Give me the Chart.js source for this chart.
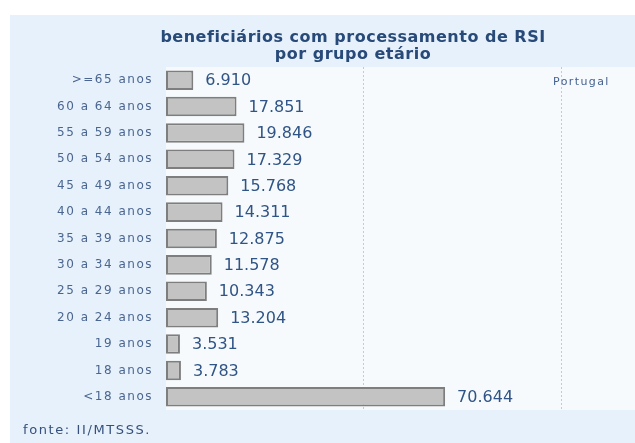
<!DOCTYPE html>
<html>
<head>
<meta charset="utf-8">
<script src="https://cdn.jsdelivr.net/npm/chart.js@4/dist/chart.umd.min.js"></script>
<style>
  html, body { margin: 0; padding: 0; background: #ffffff; }
  #wrap { width: 635px; height: 443px; }
</style>
</head>
<body>
<div id="wrap"><canvas id="rsiChart" width="635" height="443"></canvas></div>
<script>
// dados
const ageGroups = ['>=65 anos', '60 a 64 anos', '55 a 59 anos', '50 a 54 anos', '45 a 49 anos',
    '40 a 44 anos', '35 a 39 anos', '30 a 34 anos', '25 a 29 anos', '20 a 24 anos',
    '19 anos', '18 anos', '<18 anos'];
const beneficiaries = [6910, 17851, 19846, 17329, 15768, 14311, 12875, 11578, 10343, 13204, 3531, 3783, 70644];
const titleLines = ['beneficiários com processamento de RSI', 'por grupo etário'];
const regionLabel = 'Portugal';
const sourceNote = 'fonte: II/MTSSS.';
const gridTicks = [50000, 100000];

const panelPlugin = {
    id: 'panel',
    beforeDraw(chart) {
        const ctx = chart.ctx;
        const area = chart.chartArea;
        ctx.save();
        ctx.fillStyle = '#ffffff';
        ctx.fillRect(0, 0, chart.width, chart.height);
        ctx.fillStyle = '#e7f1fb';
        ctx.fillRect(10, 15, chart.width - 10, chart.height - 15);
        ctx.fillStyle = '#f7fafd';
        ctx.fillRect(area.left, area.top, area.right - area.left, area.bottom - area.top);
        ctx.restore();
        // tick labels are drawn with wider spacing
        ctx.letterSpacing = '1.5px';
    },
    beforeDatasetsDraw(chart) {
        chart.ctx.letterSpacing = '0px';
    },
    afterDraw(chart) {
        const ctx = chart.ctx;
        ctx.save();

        // titulo
        ctx.fillStyle = '#284a79';
        ctx.font = 'bold 16px "DejaVu Sans"';
        ctx.letterSpacing = '0.5px';
        ctx.textAlign = 'center';
        ctx.textBaseline = 'alphabetic';
        ctx.fillText(titleLines[0], 353, 42);
        ctx.fillText(titleLines[1], 353, 59);

        // valores
        ctx.letterSpacing = '0px';
        ctx.font = '16px "DejaVu Sans"';
        ctx.fillStyle = '#2f5485';
        ctx.textAlign = 'left';
        ctx.textBaseline = 'middle';
        const meta = chart.getDatasetMeta(0);
        meta.data.forEach((bar, i) => {
            ctx.fillText(beneficiaries[i].toLocaleString('de-DE'), bar.x + 12, bar.y + 1);
        });

        // Portugal
        ctx.font = '11px "DejaVu Sans"';
        ctx.letterSpacing = '1.4px';
        ctx.fillStyle = '#456290';
        ctx.fillText(regionLabel, 553, 82);

        // fonte
        ctx.font = '13px "DejaVu Sans"';
        ctx.letterSpacing = '1.6px';
        ctx.fillStyle = '#35507c';
        ctx.fillText(sourceNote, 23, 431);

        ctx.restore();
        ctx.letterSpacing = '0px';
    }
};

const ctx = document.getElementById('rsiChart').getContext('2d');
new Chart(ctx, {
    type: 'bar',
    data: {
        labels: ageGroups,
        datasets: [{
            label: regionLabel,
            data: beneficiaries,
            backgroundColor: '#c3c3c3',
            borderColor: '#7e7e7e',
            borderWidth: 2,
            borderSkipped: false,
            barPercentage: 0.74,
            categoryPercentage: 1
        }]
    },
    options: {
        indexAxis: 'y',
        responsive: false,
        animation: false,
        layout: {
            padding: { top: 67, bottom: 33, left: 0, right: 0 }
        },
        plugins: {
            legend: { display: false },
            title: { display: false },
            tooltip: { enabled: false }
        },
        scales: {
            x: {
                min: 0,
                max: 118700,
                afterBuildTicks: function(axis) {
                    axis.ticks = gridTicks.map(v => ({ value: v }));
                },
                afterFit: function(axis) {
                    axis.height = 0;
                },
                ticks: { display: false },
                grid: {
                    color: '#f0c489',
                    lineWidth: 1,
                    drawTicks: false
                },
                border: { display: false, dash: [2, 2] }
            },
            y: {
                afterFit: function(axis) {
                    axis.width = 166;
                },
                grid: { display: false },
                border: { display: false },
                ticks: {
                    padding: 5,
                    color: '#4a6690',
                    font: { family: 'DejaVu Sans', size: 12 }
                }
            }
        }
    },
    plugins: [panelPlugin]
});
</script>
</body>
</html>
